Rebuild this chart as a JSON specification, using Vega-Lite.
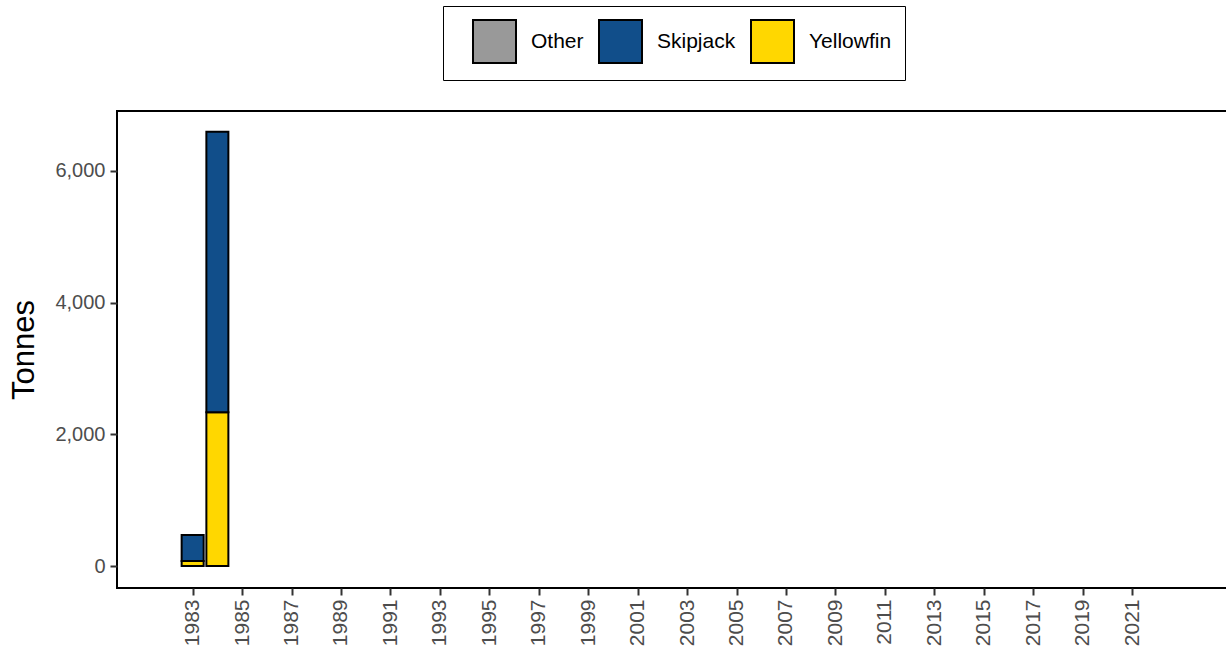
{
  "$schema": "https://vega.github.io/schema/vega-lite/v6.json",
  "autosize": {"type": "none"},
  "padding": {"left": 117, "top": 111, "right": 0, "bottom": 66},
  "width": 1112,
  "height": 477,
  "background": "white",
  "config": {
    "font": "Liberation Sans",
    "view": {"stroke": "black", "strokeWidth": 2},
    "axis": {
      "grid": false,
      "domain": false,
      "tickColor": "#333333",
      "tickWidth": 2,
      "tickSize": 7,
      "labelColor": "#4d4d4d",
      "labelFontSize": 20,
      "labelFont": "Liberation Sans",
      "titleFont": "Liberation Sans",
      "titleColor": "black",
      "titleFontWeight": "normal"
    }
  },
  "data": {
    "values": [
      {"year": 1983, "species": "Yellowfin", "tonnes": 76},
      {"year": 1983, "species": "Skipjack", "tonnes": 395},
      {"year": 1984, "species": "Yellowfin", "tonnes": 2334},
      {"year": 1984, "species": "Skipjack", "tonnes": 4262}
    ]
  },
  "mark": {"type": "bar", "size": 22, "stroke": "black", "strokeWidth": 2},
  "encoding": {
    "x": {
      "field": "year",
      "type": "quantitative",
      "scale": {"domain": [1979.94, 2024.92], "nice": false, "zero": false, "padding": 0},
      "axis": {
        "title": null,
        "values": [1983,1985,1987,1989,1991,1993,1995,1997,1999,2001,2003,2005,2007,2009,2011,2013,2015,2017,2019,2021],
        "format": "d",
        "labelAngle": -90,
        "labelPadding": 4,
        "labelFontSize": 21
      }
    },
    "y": {
      "field": "tonnes",
      "type": "quantitative",
      "aggregate": "sum",
      "stack": "zero",
      "scale": {"domain": [-334, 6910], "nice": false, "zero": false},
      "axis": {
        "title": "Tonnes",
        "titleFontSize": 31,
        "titlePadding": 14,
        "values": [0, 2000, 4000, 6000],
        "format": ",.0f",
        "labelPadding": 5
      }
    },
    "color": {
      "field": "species",
      "type": "nominal",
      "scale": {"domain": ["Other", "Skipjack", "Yellowfin"], "range": ["#999999", "#114E8A", "#FFD700"]},
      "legend": {
        "title": " ",
        "titleOrient": "left",
        "titleFontSize": 12,
        "titlePadding": 16,
        "orient": "none",
        "legendX": 326,
        "legendY": -105,
        "direction": "horizontal",
        "symbolType": "square",
        "symbolSize": 1849,
        "symbolStrokeColor": "black",
        "symbolStrokeWidth": 2,
        "symbolOpacity": 1,
        "labelFontSize": 21,
        "labelColor": "black",
        "labelOffset": 14,
        "columnPadding": 11,
        "padding": 13,
        "strokeColor": "black",
        "fillColor": "white"
      }
    },
    "order": {"field": "species", "sort": "descending"}
  }
}
